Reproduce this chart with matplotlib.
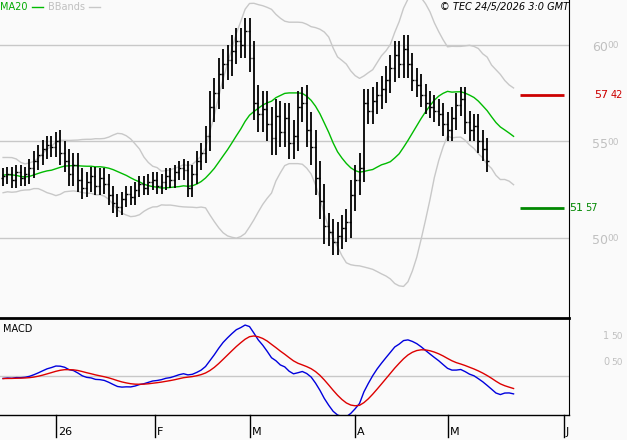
import numpy as np
import pandas as pd
import matplotlib
matplotlib.use("Agg")
import matplotlib.pyplot as plt

# warm-up closes (before visible window) used for MA / bands / MACD
warmup = [53.8, 54.1, 53.6, 53.2, 52.9, 53.4, 53.9, 54.3, 53.7, 53.1,
          52.6, 52.8, 53.3, 53.9, 54.2, 53.8, 53.0, 52.5, 52.7, 53.2,
          53.6, 54.0, 53.5, 52.9, 52.7, 53.1, 53.5, 53.2, 52.9, 53.1]

closes = [53.2, 53.3, 53.0, 53.4, 53.1, 53.3,
          53.6, 54.0, 54.3, 54.6, 54.8, 54.7, 55.0,
          54.4, 54.0, 53.3, 53.8, 53.0, 52.6,
          52.9, 53.2, 52.7, 53.1, 52.8, 52.2, 51.8, 51.6,
          52.0, 52.3, 52.1, 52.5, 52.8, 52.6, 52.9,
          53.0, 52.7, 52.9, 53.2, 53.0, 53.4, 53.6,
          53.5, 52.6, 53.3, 54.0, 54.4, 55.3,
          56.8, 57.5, 58.5, 59.0, 59.2, 59.7,
          60.2, 60.0, 60.7, 59.3,
          57.0, 56.4, 56.7, 55.9, 55.2, 56.3,
          55.5, 56.2, 54.9, 55.3, 56.8, 57.0,
          55.6, 54.7, 53.1, 51.9, 50.6,
          50.3, 49.8, 50.1, 50.5, 50.8,
          52.2, 53.0, 53.6,
          57.0, 56.6, 57.1, 57.4, 57.7,
          58.2, 58.8, 59.5, 59.0, 59.8, 59.0,
          58.2, 57.9, 57.4, 57.0, 56.8, 56.6,
          56.4, 55.9, 55.6, 56.2, 56.9, 57.2,
          56.0, 55.6, 55.8, 55.0, 54.6, 54.0,
          53.5, 53.0, 53.6, 54.8, 54.2, 53.6]

pads = ([0.4] * 6 + [0.5] * 7 + [0.6] * 6 + [0.5] * 8 + [0.4] * 7 + [0.4] * 7
        + [0.5] * 6 + [0.8] * 6 + [0.7] * 4 + [0.9] * 6 + [0.8] * 6 + [0.9] * 5
        + [0.7] * 5 + [0.8] * 3 + [0.7] * 5 + [0.7] * 6 + [0.6] * 6 + [0.6] * 6
        + [0.6] * 6)

tick_pos = [12, 34.5, 56, 80, 101, 127.5]
tick_labels = ["26", "F", "M", "A", "M", "J"]
price_ticks = [50, 55, 60]
resistance = 57.42
support = 51.57

s = pd.Series(warmup + closes)
ma = s.rolling(20).mean()
sd = s.rolling(20).std(ddof=0)
upper = ma + 2 * sd
lower = ma - 2 * sd
macd = s.ewm(span=12, adjust=False).mean() - s.ewm(span=26, adjust=False).mean()
signal = macd.ewm(span=9, adjust=False).mean()
n0 = len(warmup)
x = np.arange(len(closes))

bg = "#fafafa"
fig = plt.figure(figsize=(6.27, 4.40), dpi=100, facecolor=bg)
W, H = 627, 440
ax = fig.add_axes([0, 1 - 318 / H, 569 / W, 318 / H], facecolor=bg)
ax2 = fig.add_axes([0, 1 - 415 / H, 569 / W, 96 / H], facecolor=bg)

xlim = (-0.7, 128.6)
for a in (ax, ax2):
    a.set_xlim(*xlim)
    for sp in a.spines.values():
        sp.set_visible(False)
    a.spines["right"].set_visible(True)
    a.spines["right"].set_color("black")
    a.set_xticks([])
    a.set_yticks([])

ax.set_ylim(45.85, 62.33)
yt = ax.get_yaxis_transform()
for p in price_ticks:
    ax.axhline(p, color="#c8c8c8", lw=1, zorder=0)
    ax.text(1.04, p - 0.15, f"{p}", transform=yt, color="#c0c0c0",
            fontsize=9, ha="left", va="center")
    ax.text(1.068, p - 0.05, "00", transform=yt, color="#c0c0c0",
            fontsize=6.5, ha="left", va="center")

ax.plot(x, upper.iloc[n0:], color="#c8c8c8", lw=1)
ax.plot(x, lower.iloc[n0:], color="#c8c8c8", lw=1)
ax.plot(x, ma.iloc[n0:], color="#00bb00", lw=1)

opens = [warmup[-1]] + closes[:-1]
for i, (o, c, p) in enumerate(zip(opens, closes, pads)):
    hi, lo = max(o, c) + p, min(o, c) - p
    ax.vlines(i, lo, hi, color="black", lw=1.3)
    ax.hlines(o, i - 0.45, i, color="black", lw=1)
    ax.hlines(c, i, i + 0.45, color="black", lw=1)

ax.hlines(resistance, 117.5, 127.5, color="#cc0000", lw=2)
ax.hlines(support, 117.5, 127.5, color="#008800", lw=2)
ax.text(1.045, resistance, "57", transform=yt, color="#cc0000", fontsize=8, va="center")
ax.text(1.073, resistance, "42", transform=yt, color="#cc0000", fontsize=7, va="center")
ax.text(1.0, support, "51", transform=yt, color="#008800", fontsize=8, va="center")
ax.text(1.028, support, "57", transform=yt, color="#008800", fontsize=7, va="center")

ax.text(0.0, 0.995, "MA20", transform=ax.transAxes, color="#00aa00", fontsize=7, va="top")
ax.plot([0.057, 0.075], [0.978, 0.978], transform=ax.transAxes, color="#00bb00", lw=1)
ax.text(0.085, 0.995, "BBands", transform=ax.transAxes, color="#c0c0c0", fontsize=7, va="top")
ax.plot([0.157, 0.175], [0.978, 0.978], transform=ax.transAxes, color="#c8c8c8", lw=1)
ax.text(1.0, 0.995, "© TEC 24/5/2026 3:0 GMT", transform=ax.transAxes, fontsize=7,
        style="italic", ha="right", va="top")

ax2.set_ylim(-1.5, 2.15)
ax2.axhline(0, color="#c8c8c8", lw=1, zorder=0)
ax2.plot(x, macd.iloc[n0:], color="#0000dd", lw=1)
ax2.plot(x, signal.iloc[n0:], color="#dd0000", lw=1)
ax2.text(0.005, 0.95, "MACD", transform=ax2.transAxes, fontsize=7, va="top")
yt2 = ax2.get_yaxis_transform()
for v, a1, b1 in [(1.5, "1", "50"), (0.5, "0", "50")]:
    ax2.text(1.06, v, a1, transform=yt2, color="#c0c0c0", fontsize=7, va="center")
    ax2.text(1.075, v, b1, transform=yt2, color="#c0c0c0", fontsize=6.5, va="center")

fig.add_artist(plt.Line2D([0, 569 / W], [1 - 318 / H] * 2, color="black", lw=2))
fig.add_artist(plt.Line2D([0, 569 / W], [1 - 415 / H] * 2, color="black", lw=1))
for tp, lab in zip(tick_pos, tick_labels):
    xf = (tp - xlim[0]) / (xlim[1] - xlim[0]) * 569 / W
    fig.add_artist(plt.Line2D([xf, xf], [1 - 415 / H, 1 - 437 / H], color="black", lw=1))
    fig.text(xf + 0.003, 1 - 437 / H, lab, fontsize=8, ha="left", va="bottom")

fig.savefig("out.png", dpi=100, facecolor=bg)
